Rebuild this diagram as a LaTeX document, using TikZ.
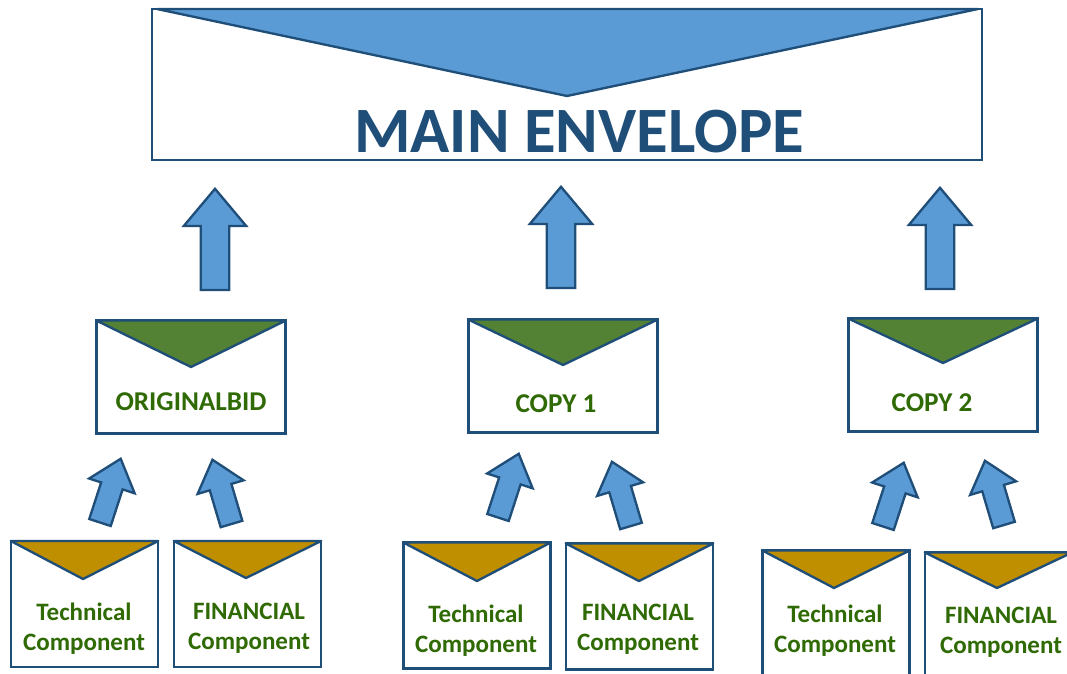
\documentclass[tikz,border=0pt]{standalone}
\usepackage{fontspec}
\setmainfont{Carlito}
\usetikzlibrary{shapes.arrows}

\definecolor{edgeblue}{HTML}{1F4E79}
\definecolor{fillblue}{HTML}{5B9BD5}
\definecolor{flapgreen}{HTML}{548235}
\definecolor{flapgold}{HTML}{BF8F00}
\definecolor{textgreen}{HTML}{2F6A05}

\tikzset{
    envbox/.style={draw=edgeblue, line width=2.7pt, fill=white, rectangle, inner sep=0pt, outer sep=0pt},
    midbox/.style={envbox, minimum width=202pt, minimum height=120.5pt},
    smallbox/.style={envbox, minimum width=157.3pt, minimum height=134.5pt},
    flap/.style={draw=edgeblue, line width=2.5pt, line join=round},
    blockarrow/.style={single arrow, draw=edgeblue, fill=fillblue, line width=2.5pt, inner sep=0pt, outer sep=0pt,
        anchor=tail, single arrow tip angle=80, single arrow head indent=0pt},
    bigarrow/.style={blockarrow, rotate=90, minimum height=108pt, single arrow head extend=18pt, text height=14pt, text depth=14pt},
    smallarrow/.style={blockarrow, minimum height=71.5pt, single arrow head extend=13.5pt, text height=10.8pt, text depth=10.8pt},
    midtext/.style={text=textgreen, font=\fontsize{29}{34}\selectfont\bfseries},
    smalltext/.style={text=textgreen, align=center, font=\fontsize{26.7}{32}\selectfont\bfseries}
}

\begin{document}
\begin{tikzpicture}[x=0.0375cm, y=-0.0375cm]
    \useasboundingbox (0,0) rectangle (1067,674);
    \clip (0,0) rectangle (1067,674);

    % Main envelope
    \node[envbox, minimum width=885.6pt, minimum height=161.1pt] (mainenv) at (567,84.5) {};
    \coordinate (maintip) at (567,96);
    \draw[flap, fill=fillblue] (157,9) -- (978,9) -- (maintip) -- cycle;
    \node[text=edgeblue, font=\fontsize{69}{74}\selectfont\bfseries] (maintext) at (579,132) {MAIN ENVELOPE};

    % Arrows into the main envelope
    \node[bigarrow] (uporiginal) at (215,290) {};
    \node[bigarrow] (upcopya) at (561,288) {};
    \node[bigarrow] (upcopyb) at (940,289) {};

    % Middle envelopes
    \foreach \name/\cx/\cy/\tipy in {original/191/377/367, copya/563/376/365, copyb/943/375/363} {
        \node[midbox] (\name) at (\cx,\cy) {};
        \coordinate (\name tip) at (\cx,\tipy);
        \draw[flap, fill=flapgreen] (\name.north west) -- (\name.north east) -- (\name tip) -- cycle;
    }
    \node[midtext] (originaltext) at (191,402) {ORIGINALBID};
    \node[midtext] (copyatext) at (556,404) {COPY 1};
    \node[midtext] (copybtext) at (932,403) {COPY 2};

    % Small envelopes
    \foreach \name/\cx/\cy/\tipx/\tipy in {
        techa/84.5/604/83/579, fina/247.5/604/246/578,
        techb/477/605.5/477/581, finb/639.5/606.5/639/581,
        techc/836/613.5/834/588, finc/998.5/615.5/997/588} {
        \node[smallbox] (\name) at (\cx,\cy) {};
        \coordinate (\name tip) at (\tipx,\tipy);
        \draw[flap, fill=flapgold] (\name.north west) -- (\name.north east) -- (\name tip) -- cycle;
    }
    \node[smalltext] (techatext) at (84,629) {Technical\\Component};
    \node[smalltext] (finatext) at (249,628) {FINANCIAL\\Component};
    \node[smalltext] (techbtext) at (476,631) {Technical\\Component};
    \node[smalltext] (finbtext) at (638,629) {FINANCIAL\\Component};
    \node[smalltext] (techctext) at (835,631) {Technical\\Component};
    \node[smalltext] (finctext) at (1001,632) {FINANCIAL\\Component};

    % Small arrows
    \foreach \name/\cx/\cy/\ang in {
        arrtecha/100/522.5/72, arrfina/231.5/524/106.5,
        arrtechb/498/517.5/72, arrfinb/631/526/106.5,
        arrtechc/883/526.5/72, arrfinc/1004/525/106.5} {
        \node[smallarrow, rotate=\ang] (\name) at (\cx,\cy) {};
    }
\end{tikzpicture}
\end{document}
